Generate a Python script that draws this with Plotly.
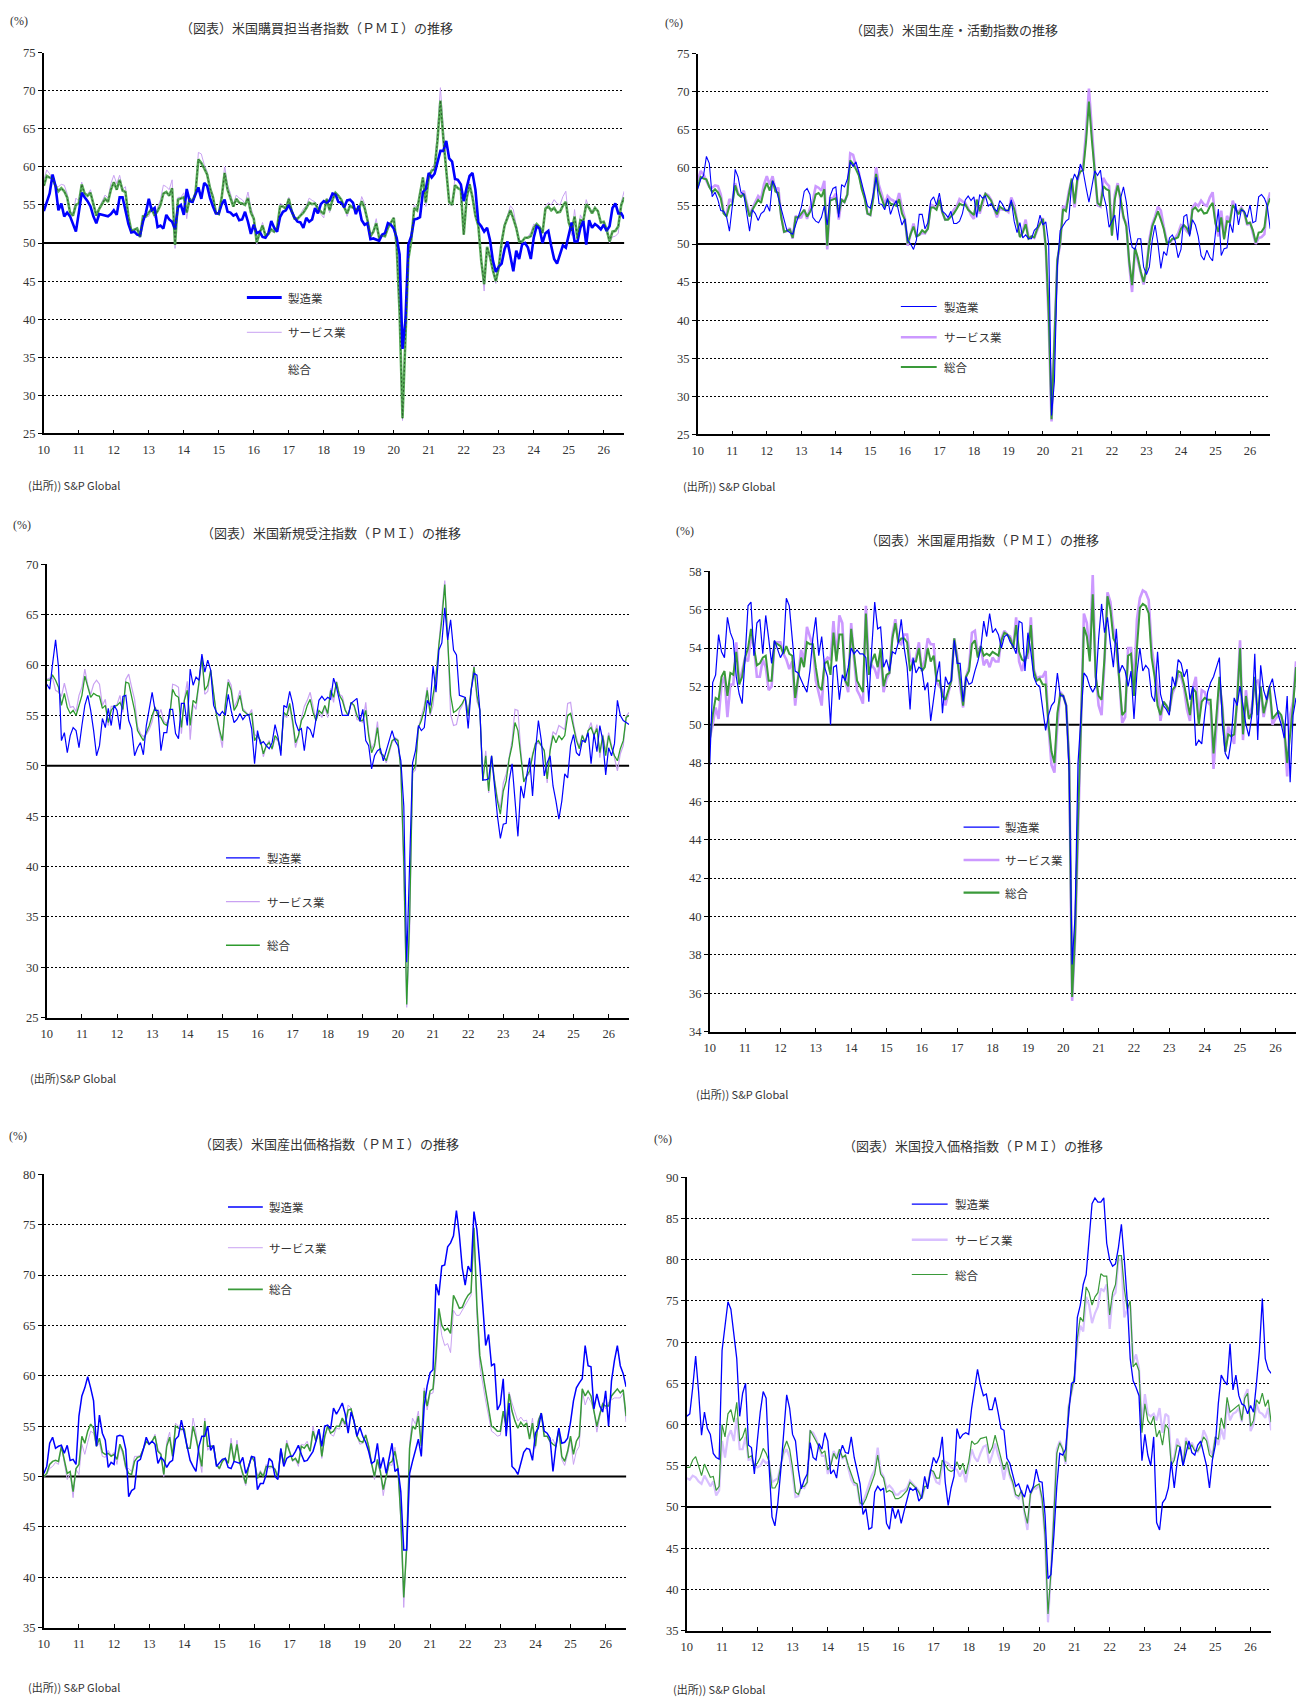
import plotly.graph_objects as go

W, H = 1301, 1705
BASELINE = 50
YEARS = list(range(2010, 2027))
YEAR_LABELS = [f"{y % 100:02d}" for y in YEARS]
LEGEND_NAMES = ["製造業", "サービス業", "総合"]
N_MONTHS = 200  # Jan 2010 - Aug 2026

# ---- headline PMI (monthly from Jan 2010) ----
PMI_MFG = [
    54.2, 55.5, 56.5, 59.0, 57.5, 54.3, 55.2, 53.5, 54.0, 53.5, 52.5, 51.5,
    54.0, 56.6, 56.0, 55.5, 54.8, 53.5, 52.6, 53.8, 53.7, 53.6, 53.5, 53.8,
    54.3, 53.7, 56.0, 56.0, 54.0, 52.5, 51.4, 51.5, 51.1, 51.0, 52.8, 54.0,
    55.8, 54.3, 54.6, 52.1, 52.3, 51.9, 53.7, 53.1, 52.8, 51.8, 54.7, 55.0,
    53.7, 57.1, 55.5, 55.4, 56.4, 57.3, 55.8, 57.9, 57.5, 55.9, 54.8, 53.9,
    53.9, 55.1, 55.7, 54.1, 54.0, 53.6, 53.8, 53.0, 53.1, 54.1, 52.8, 51.2,
    52.4, 51.3, 51.5, 50.8, 50.7, 51.3, 52.9, 52.0, 51.5, 53.4, 54.1, 54.3,
    55.0, 54.2, 53.3, 52.8, 52.7, 52.0, 53.3, 52.8, 53.1, 54.6, 53.9, 55.1,
    55.5, 55.3, 55.6, 56.5, 56.4, 55.4, 55.3, 54.7, 55.6, 55.7, 55.3, 53.8,
    54.9, 53.0, 52.4, 52.6, 50.5, 50.6, 50.4, 50.3, 51.1, 51.3, 52.6, 52.4,
    51.9, 50.7, 48.5, 36.1, 39.8, 49.8, 50.9, 53.1, 53.2, 53.4, 56.7, 57.1,
    59.2, 58.6, 59.1, 60.5, 62.1, 62.1, 63.4, 61.1, 60.7, 58.4, 58.3, 57.7,
    55.5, 57.3, 58.8, 59.2, 57.0, 52.7, 52.2, 51.5, 52.0, 50.4, 47.7, 46.2,
    46.9, 47.3, 49.2, 50.2, 48.4, 46.3, 49.0, 47.9, 49.8, 50.0, 49.4, 47.9,
    50.7, 52.2, 51.9, 50.0, 51.3, 51.6, 49.6, 47.9, 47.3, 48.5, 49.7, 49.4,
    51.2, 52.7, 50.2, 50.2, 52.0, 52.9, 49.8, 53.0, 52.0, 52.5, 52.2, 51.8,
    52.4, 51.6, 52.2, 54.6, 55.2, 53.9, 53.9, 53.2,
]
PMI_SVC = [
    58.3, 59.6, 59.1, 58.4, 57.5, 57.4, 57.7, 57.6, 56.5, 54.1, 53.9, 55.9,
    55.5, 58.0, 56.6, 56.4, 57.0, 55.4, 53.9, 54.7, 55.6, 56.3, 55.9, 57.8,
    58.9, 57.8, 58.9, 57.1, 57.4, 53.7, 51.6, 51.7, 52.1, 50.7, 53.7, 53.4,
    53.5, 54.5, 53.3, 54.7, 55.7, 57.6, 57.4, 57.0, 58.3, 49.3, 56.0, 56.0,
    56.6, 53.2, 55.9, 55.5, 56.5, 61.9, 61.7, 60.3, 59.4, 57.5, 56.3, 54.0,
    53.8, 56.2, 60.1, 57.7, 56.5, 55.1, 56.3, 55.9, 55.7, 55.2, 56.7, 54.7,
    53.4, 49.8, 51.3, 52.7, 51.1, 51.2, 51.5, 51.4, 52.1, 55.2, 55.0, 54.6,
    56.0, 54.2, 53.2, 53.3, 53.8, 54.5, 54.9, 55.9, 55.6, 55.4, 54.7, 53.8,
    53.3, 55.9, 54.0, 55.5, 56.6, 56.4, 55.8, 54.7, 53.5, 54.7, 54.5, 54.5,
    54.2, 56.1, 55.2, 53.1, 51.0, 51.7, 53.2, 50.8, 51.0, 50.8, 51.9, 52.8,
    53.4, 49.4, 39.8, 26.7, 37.5, 47.9, 50.0, 55.0, 54.6, 56.9, 58.4, 54.8,
    58.3, 59.8, 60.4, 64.7, 70.4, 64.6, 59.9, 55.1, 54.9, 58.7, 58.0, 57.6,
    51.2, 56.5, 58.0, 55.6, 53.4, 52.7, 47.3, 43.7, 49.3, 47.8, 46.2, 44.7,
    46.8, 50.6, 52.6, 53.6, 54.9, 54.4, 52.3, 50.5, 50.1, 50.6, 50.8, 51.4,
    52.5, 52.3, 51.7, 51.3, 54.8, 55.3, 55.0, 55.7, 55.2, 55.0, 56.1, 56.8,
    52.9, 51.0, 54.4, 50.8, 53.7, 52.9, 55.7, 54.5, 54.2, 54.8, 54.1, 52.5,
    52.9, 51.6, 50.0, 50.8, 50.9, 51.3, 55.3, 56.8,
]
PMI_COMP = [
    57.5, 58.8, 58.6, 58.5, 57.5, 56.8, 57.2, 56.8, 56.0, 54.0, 53.6, 55.0,
    55.2, 57.7, 56.5, 56.2, 56.6, 55.0, 53.6, 54.5, 55.2, 55.8, 55.4, 57.0,
    58.0, 57.0, 58.3, 56.9, 56.7, 53.5, 51.6, 51.7, 51.9, 50.8, 53.5, 53.5,
    54.0, 54.5, 53.6, 54.2, 55.0, 56.5, 56.7, 56.2, 57.2, 49.8, 55.7, 55.8,
    56.0, 54.0, 55.8, 55.5, 56.5, 61.0, 60.5, 59.8, 59.0, 57.2, 56.0, 54.0,
    53.8, 56.0, 59.2, 57.0, 56.0, 54.8, 55.8, 55.3, 55.2, 55.0, 55.9, 54.0,
    53.2, 50.1, 51.3, 52.3, 51.0, 51.2, 51.8, 51.5, 52.0, 54.8, 54.8, 54.5,
    55.8, 54.2, 53.2, 53.2, 53.6, 54.0, 54.6, 55.3, 55.1, 55.2, 54.5, 54.1,
    53.8, 55.8, 54.3, 55.7, 56.6, 56.2, 55.7, 54.7, 53.9, 54.9, 54.7, 54.4,
    54.4, 55.5, 54.6, 53.0, 50.9, 51.5, 52.6, 50.7, 51.0, 50.9, 52.0, 52.7,
    53.3, 49.6, 40.9, 27.0, 37.0, 47.9, 50.3, 54.6, 54.3, 56.3, 58.6, 55.3,
    58.7, 59.5, 59.7, 63.5, 68.7, 63.7, 59.9, 55.4, 55.0, 57.6, 57.2, 57.0,
    51.1, 55.9, 57.7, 56.0, 53.6, 52.3, 47.7, 44.6, 49.5, 48.2, 46.4, 45.0,
    46.8, 50.1, 52.3, 53.4, 54.3, 53.2, 52.0, 50.2, 50.2, 50.7, 50.7, 50.9,
    52.0, 52.5, 52.1, 51.3, 54.5, 54.8, 54.3, 54.6, 54.0, 54.1, 54.9, 55.4,
    52.7, 51.6, 53.5, 50.6, 53.0, 52.9, 55.1, 54.6, 53.9, 54.6, 54.2, 52.7,
    52.8, 51.8, 50.2, 51.5, 51.6, 52.2, 55.0, 56.0,
]

# ---- output / business activity ----
OUT_MFG = [
    57.2, 58.5, 59.0, 61.5, 60.6, 56.2, 56.8, 55.8, 54.4, 54.3, 53.6, 51.7,
    55.0, 59.8, 58.8, 56.8, 56.5, 54.0, 51.7, 54.5, 54.0, 53.1, 54.0, 54.3,
    55.2, 54.3, 58.3, 57.5, 56.0, 54.6, 53.0, 51.8, 51.5, 51.3, 52.5, 53.8,
    54.8, 56.9, 57.3, 56.5, 53.5, 53.0, 52.8, 53.5, 55.0, 52.5, 56.3, 57.3,
    57.5, 53.5, 57.8, 57.5, 58.5, 60.8, 60.2, 60.8, 59.5, 58.0, 56.5, 55.0,
    54.7, 56.5, 58.8, 55.3, 55.2, 54.5, 56.0, 53.9, 55.0, 55.7, 54.0, 52.5,
    53.3, 50.5, 50.0, 49.3, 50.5, 53.9, 53.9, 52.0, 52.8, 55.7, 56.2, 55.1,
    56.7, 54.3, 54.0, 53.5, 54.3, 52.7, 52.7, 53.0, 54.0, 55.8, 56.3, 55.7,
    56.2, 53.5, 56.5, 56.0, 56.3, 55.0, 55.3, 54.6, 54.3, 55.7, 55.2, 54.4,
    54.4, 55.8, 53.0, 51.5, 52.8, 50.8, 51.2, 50.7, 50.7, 51.8, 52.2, 53.8,
    52.5, 52.9, 50.0, 27.5, 32.0, 47.0, 51.8, 52.5, 53.0, 53.3, 58.0, 59.2,
    58.4, 60.5, 59.5, 57.4, 55.5, 57.5, 59.6, 59.0, 59.7, 56.5, 55.0, 52.2,
    53.1, 53.8, 50.5, 56.0, 57.5, 55.5, 52.0, 49.6, 49.3, 50.7, 50.7, 47.0,
    46.0, 47.0, 50.5, 52.5, 50.0, 46.8, 49.0, 48.5, 50.8, 51.2, 50.4, 48.2,
    49.3, 53.6, 53.9, 51.0, 53.2, 52.5, 51.0, 48.5, 47.9, 49.2, 48.3, 47.8,
    51.5, 54.6, 48.5, 49.4, 49.5, 52.8, 51.5, 55.3, 52.5, 54.5, 54.3, 53.5,
    55.1, 52.8, 53.0, 56.2, 56.5, 56.0, 55.0, 52.0,
]
OUT_SVC = PMI_SVC
OUT_COMP = PMI_COMP

# ---- new orders ----
NO_MFG = [
    58.1, 57.6, 60.2, 62.5, 59.8, 52.5, 53.3, 51.3, 53.0, 53.8, 53.5, 51.8,
    54.0, 56.0, 57.0, 55.5, 53.5, 51.0, 52.0, 54.7, 53.8, 55.7, 54.0, 56.0,
    55.5, 53.6, 56.9, 57.0, 54.5, 53.7, 51.0, 51.8, 52.3, 51.1, 54.0, 55.5,
    57.3, 55.5, 55.5, 51.5, 53.3, 53.3, 55.6, 55.6, 53.2, 52.7, 56.2, 56.2,
    54.0, 59.6, 58.0, 58.8, 58.5, 61.1, 59.3, 60.5, 59.5, 56.0, 55.3, 55.0,
    55.4, 55.0, 57.1, 55.5, 54.3, 54.6, 55.2, 54.6, 55.0, 55.1, 53.7, 50.2,
    53.5, 52.2, 52.4, 52.0, 51.7, 52.3, 54.1, 52.9, 51.0, 56.0, 55.8, 57.4,
    56.2, 54.3, 53.5, 53.7, 51.5, 53.9, 53.6, 52.8, 54.5, 56.5, 56.9, 56.5,
    56.8, 56.6, 58.7, 57.8, 56.5, 55.0, 55.0, 55.0, 56.2, 56.5, 56.7, 54.4,
    55.6, 52.5, 52.0, 49.7, 51.0, 51.5, 51.7, 50.5, 51.5, 52.5, 53.5, 52.5,
    52.0, 50.5, 46.0, 30.5, 40.0, 50.3, 51.5, 54.0, 53.5, 53.8, 56.5, 56.0,
    59.9, 57.3, 61.5, 62.2, 65.7, 62.5, 64.5, 61.5, 61.0, 57.0, 56.9, 56.8,
    53.7, 57.5, 59.2, 59.0, 55.5, 48.6, 48.6, 48.7, 51.0, 48.0, 45.0, 42.8,
    44.2, 44.3, 48.5, 50.2, 46.5, 43.0, 48.0, 46.8, 49.0, 50.8, 47.0, 51.5,
    54.5, 52.5, 49.0, 50.3, 51.0, 48.0, 46.5, 44.7, 46.5, 49.2, 48.8, 52.0,
    53.1, 51.3, 51.0, 52.5, 52.4, 53.3, 50.2, 53.2, 51.4, 54.0, 52.5, 49.1,
    51.8, 51.0, 52.2, 56.5, 55.0, 54.5, 54.3, 54.1,
]
NO_SVC = [
    58.6, 58.7, 58.7, 57.5, 57.3, 56.9, 58.2, 56.9, 55.8, 55.9, 55.4, 57.0,
    57.8, 59.6, 58.0, 57.1, 58.1, 58.5, 58.1, 56.0, 56.6, 54.0, 55.9, 55.9,
    56.1, 57.0, 55.3, 58.6, 59.1, 57.8, 56.6, 53.9, 53.2, 52.9, 53.1, 53.6,
    54.4, 55.9, 54.9, 55.6, 54.4, 54.2, 54.9, 58.1, 58.0, 57.8, 53.2, 56.6,
    58.4, 52.6, 56.1, 55.6, 58.3, 60.7, 57.1, 57.4, 59.5, 57.3, 54.9, 53.3,
    51.8, 56.3, 58.6, 58.0, 55.8, 56.4, 57.5, 55.7, 55.3, 55.0, 55.6, 53.1,
    52.9, 52.6, 50.9, 52.0, 52.5, 51.6, 52.7, 52.5, 51.6, 55.1, 54.8, 55.9,
    54.1, 51.8, 52.9, 54.7, 55.9, 56.5, 57.3, 55.9, 54.5, 55.3, 54.8, 55.9,
    54.8, 57.7, 56.3, 58.4, 57.1, 56.9, 55.6, 55.0, 56.3, 55.9, 54.6, 54.5,
    54.3, 56.3, 53.3, 51.7, 52.3, 54.4, 51.2, 51.1, 50.3, 51.3, 52.3, 52.8,
    52.6, 49.4, 39.1, 26.0, 33.8, 49.3, 49.6, 53.8, 54.8, 56.0, 57.8, 55.0,
    56.0, 59.2, 62.1, 64.9, 68.4, 62.5, 55.1, 54.0, 54.1, 55.5, 56.0, 56.8,
    55.3, 57.5, 60.0, 56.4, 55.6, 48.5, 51.5, 47.3, 51.0, 48.7, 46.8, 45.8,
    48.3, 49.2, 51.0, 52.5, 55.6, 55.5, 51.5, 48.6, 49.0, 49.2, 51.2, 52.1,
    52.3, 51.9, 51.6, 48.3, 51.8, 53.4, 53.1, 54.0, 53.8, 53.6, 56.2, 56.3,
    54.2, 52.8, 51.8, 53.1, 52.3, 53.5, 54.3, 53.0, 54.1, 50.8, 53.1, 51.5,
    53.3, 51.9, 50.8, 49.5, 51.2, 52.0, 54.9, 55.3,
]
NO_COMP = [
    58.5, 58.5, 59.0, 58.5, 57.8, 56.0, 57.2, 55.8, 55.2, 55.5, 55.0, 56.0,
    57.0, 58.9, 57.8, 56.8, 57.2, 57.0, 56.9, 55.7, 56.0, 54.3, 55.5, 55.9,
    56.0, 56.3, 55.6, 58.3, 58.2, 57.0, 55.5, 53.5, 53.0, 52.5, 53.3, 54.0,
    55.0, 55.8, 55.0, 54.8, 54.2, 54.0, 55.0, 57.6, 57.0, 56.8, 53.8, 56.5,
    57.5, 54.0, 56.5, 56.2, 58.3, 60.8, 57.5, 58.0, 59.5, 57.0, 55.0, 53.6,
    52.5, 56.0, 58.3, 57.5, 55.5, 56.0, 57.0, 55.5, 55.2, 55.0, 55.2, 52.5,
    53.0, 52.5, 51.2, 52.0, 52.3, 51.7, 53.0, 52.6, 51.5, 55.3, 55.0, 56.2,
    54.5, 52.3, 53.0, 54.5, 55.0, 56.0, 56.6, 55.3, 54.5, 55.5, 55.2, 56.0,
    55.2, 57.5, 56.8, 58.3, 57.0, 56.5, 55.5, 55.0, 56.3, 56.0, 55.0, 54.5,
    54.5, 55.5, 53.0, 51.3, 52.0, 53.8, 51.3, 51.0, 50.5, 51.5, 52.5, 52.7,
    52.5, 49.6, 40.5, 26.3, 35.0, 49.5, 50.0, 53.8, 54.5, 55.5, 57.5, 55.2,
    56.8, 58.8, 62.0, 64.5, 68.0, 62.5, 57.0, 55.3, 55.5, 55.8, 56.2, 56.8,
    55.0, 57.5, 59.8, 57.0, 55.5, 48.5, 51.0, 47.5, 51.0, 48.5, 46.5, 45.2,
    47.5, 48.5, 50.7, 52.0, 54.3, 53.5, 51.0, 48.4, 49.0, 49.5, 51.0, 52.2,
    52.5, 52.0, 51.5, 48.7, 51.5, 53.0, 52.3, 53.0, 52.6, 53.0, 55.0, 55.2,
    54.0, 52.5, 51.7, 53.0, 52.3, 53.5, 53.8, 53.0, 53.7, 51.3, 53.0, 51.0,
    53.0, 51.8, 51.0, 50.5, 51.7, 52.5, 54.8, 55.0,
]

# ---- employment ----
EMP_MFG = [
    47.9, 52.2, 52.6, 54.7, 53.8, 53.5, 55.6, 54.8, 54.4, 52.5, 51.6, 51.1,
    53.5, 56.2, 56.4, 53.6, 55.3, 55.5, 53.7, 55.7, 54.5, 53.2, 54.4, 54.0,
    53.5, 53.8, 56.6, 56.2, 54.5, 52.8, 52.7, 52.3, 52.0, 51.7, 52.8, 54.5,
    55.6, 53.6, 54.6, 53.0, 52.5, 50.0, 53.0, 53.1, 51.3, 52.6, 52.3, 53.0,
    54.0, 53.7, 53.9, 53.7, 53.7, 53.5, 51.2, 54.0, 56.4, 55.0, 55.1, 53.0,
    53.4, 52.8, 53.8, 53.7, 54.3, 55.5, 54.0, 53.0, 50.8, 53.5, 52.7, 53.0,
    52.9, 51.8, 52.2, 50.2, 51.5, 52.5, 53.3, 50.6, 52.5, 52.1, 52.3, 54.4,
    53.2, 53.2, 51.2, 52.5, 52.1, 52.2, 52.8, 53.3, 54.0, 55.4, 54.6, 55.8,
    54.8, 55.0, 54.7, 54.0, 54.6, 54.7, 54.3, 54.1, 53.7, 55.4, 55.3, 52.8,
    54.8, 53.8, 52.5, 52.1, 52.0, 50.8, 49.7, 50.5, 51.0, 51.2, 52.7, 51.5,
    51.5, 51.0, 47.5, 37.5, 40.0, 48.0, 50.3, 52.7, 52.5, 52.0, 51.7, 52.0,
    54.5, 56.3, 54.8, 55.6, 54.2, 53.0, 55.0, 52.7, 53.1, 52.8, 52.0, 52.8,
    50.3, 52.7, 54.0, 52.8, 53.1, 52.9, 51.5, 51.2, 53.8, 51.6, 51.0, 50.8,
    50.5, 52.5, 52.0, 53.4, 53.2, 52.5, 52.9, 51.3, 52.0, 48.9, 49.2, 49.0,
    50.5, 51.7, 52.2, 52.5, 53.0, 53.5, 50.0, 48.5, 48.2, 49.2, 51.4, 51.0,
    52.0, 51.0, 50.0, 49.4, 50.5, 53.7, 49.2, 53.1, 51.8, 51.3, 52.0, 52.4,
    51.5, 50.5, 50.0, 49.3, 51.5, 47.0, 50.5, 51.4,
]
EMP_SVC = [
    49.3, 50.0, 50.9, 50.3, 52.1, 52.5, 50.4, 52.1, 52.1, 54.3, 52.1, 52.9,
    53.5, 53.3, 54.6, 54.1, 52.5, 52.5, 53.4, 53.0, 51.8, 52.0, 54.3, 54.3,
    54.3, 53.7, 53.4, 52.9, 53.3, 51.0, 52.3, 53.9, 53.3, 55.1, 54.6, 54.1,
    52.3, 51.6, 51.0, 53.3, 53.5, 53.4, 55.4, 53.4, 55.7, 55.3, 52.3, 51.7,
    55.3, 53.4, 51.8, 51.5, 51.1, 56.2, 53.0, 53.1, 52.9, 52.4, 53.7, 51.7,
    52.4, 52.7, 54.7, 55.5, 54.3, 54.2, 54.7, 54.7, 53.4, 53.2, 53.5, 54.3,
    52.8, 53.4, 54.5, 54.2, 54.2, 52.2, 52.0, 51.8, 51.0, 51.7, 52.3, 54.5,
    53.6, 52.0, 50.9, 52.5, 53.0, 54.8, 54.9, 53.6, 54.1, 53.1, 53.4, 53.0,
    53.5, 53.3, 53.3, 54.5, 54.9, 54.7, 54.6, 54.0, 55.6, 53.3, 52.8, 53.5,
    53.5, 55.6, 52.9, 52.4, 52.5, 52.5, 52.8, 49.9, 47.9, 47.5, 50.0, 51.7,
    51.5, 51.0, 48.1, 35.6, 38.8, 44.2, 50.6, 55.8, 55.3, 53.6, 57.8, 52.6,
    51.0, 50.5, 53.3, 56.9, 56.4, 55.0, 54.0, 52.4, 50.1, 50.4, 54.0, 54.0,
    52.0, 55.5, 56.6, 57.0, 56.9, 56.5, 54.0, 52.9, 52.0, 50.2, 51.2, 51.0,
    50.7, 51.6, 52.0, 52.6, 52.5, 51.9, 50.8, 50.2, 51.9, 52.5, 50.3, 51.8,
    51.7, 51.2, 51.0, 47.7, 49.8, 52.2, 51.0, 48.6, 49.9, 49.5, 49.0, 51.3,
    54.4, 49.2, 51.8, 50.4, 50.9, 52.2, 52.3, 51.7, 50.4, 51.2, 52.0, 50.0,
    50.3, 50.5, 50.4, 49.8, 47.3, 50.5, 51.2, 53.3,
]
EMP_COMP = [
    49.2, 50.5, 51.4, 51.3, 52.5, 52.8, 51.5, 52.7, 52.6, 53.8, 52.1, 52.5,
    53.5, 54.0, 55.0, 54.0, 53.1, 53.2, 53.5, 53.6, 52.3, 52.3, 54.3, 54.2,
    54.1, 53.7, 54.1, 53.7, 53.6, 51.4, 52.4, 53.5, 53.0, 54.3, 54.2, 54.2,
    53.0, 52.0, 51.8, 53.2, 53.3, 52.6, 54.8, 53.3, 54.7, 54.7, 52.3, 52.0,
    55.0, 53.5, 52.3, 52.0, 51.7, 55.8, 52.6, 53.3, 53.7, 53.0, 54.0, 52.0,
    52.6, 52.7, 54.5, 55.3, 54.3, 54.5, 54.5, 54.3, 52.8, 53.3, 53.3, 54.0,
    52.8, 53.0, 54.0, 53.3, 53.6, 52.3, 52.3, 51.5, 51.3, 51.8, 52.3, 54.5,
    53.5, 52.3, 51.0, 52.5, 52.8, 54.2, 54.4, 53.5, 54.1, 53.6, 53.7, 53.6,
    53.8, 53.7, 53.6, 54.4, 54.8, 54.7, 54.5, 54.0, 55.2, 53.8, 53.4, 53.3,
    53.8, 55.2, 52.8, 52.3, 52.4, 52.1, 52.1, 50.0, 48.6, 48.0, 50.6, 51.6,
    51.5, 51.0, 48.0, 35.8, 39.0, 45.0, 50.5, 55.1, 54.6, 53.3, 56.8, 52.5,
    51.5, 51.3, 53.5, 56.7, 56.0, 54.5, 54.2, 52.5, 50.5, 50.7, 53.6, 53.7,
    51.5, 54.0, 56.1, 56.3, 56.2, 55.8, 53.5, 52.5, 51.0, 50.5, 51.2, 51.0,
    50.7, 51.8, 52.0, 52.8, 52.7, 52.1, 51.3, 50.5, 51.9, 51.7, 50.0, 51.2,
    51.4, 51.3, 51.3, 48.5, 50.5, 52.5, 50.8, 48.6, 49.5, 49.4, 49.5, 51.2,
    54.0, 49.5, 51.5, 50.3, 50.6, 52.5, 50.5, 52.0, 50.6, 51.2, 52.0, 50.3,
    50.5, 50.7, 50.5, 49.8, 48.0, 49.5, 51.0, 53.0,
]

# ---- output prices ----
OPP_MFG = [
    50.3, 51.0, 53.3, 53.9, 52.8, 53.0, 53.1, 52.3, 53.1, 51.6, 51.7, 51.2,
    56.0, 58.0, 58.8, 59.9, 58.8, 57.5, 53.0, 56.1, 54.3, 53.6, 50.9, 51.4,
    51.2, 54.0, 54.1, 54.0, 52.7, 48.0, 48.6, 48.8, 51.5, 51.7, 52.7, 53.9,
    53.2, 53.5, 53.2, 51.3, 51.9, 51.6, 50.9, 51.4, 51.6, 53.7, 54.0, 55.6,
    54.3, 52.8, 51.6, 51.0, 50.5, 53.0, 54.0, 54.0, 55.0, 52.6, 53.1, 51.0,
    51.3, 51.7, 51.8, 50.9, 50.8, 51.5, 51.4, 51.3, 51.9, 50.3, 51.0, 52.0,
    51.9, 48.7, 49.3, 49.3, 50.2, 51.8, 51.5, 50.0, 49.7, 52.8, 51.0, 51.8,
    52.0, 52.0, 52.5, 53.1, 52.2, 51.5, 51.6, 52.0, 52.5, 53.5, 54.7, 53.0,
    55.0, 55.1, 54.7, 56.8, 56.2, 56.7, 57.3, 56.2, 54.3, 56.4, 55.5, 54.0,
    54.9, 54.0, 53.4, 52.5, 51.3, 51.5, 53.3, 50.8, 51.9, 50.3, 52.0, 53.3,
    50.5, 50.8, 48.5, 42.7, 42.7, 50.3, 51.5, 52.5, 53.7, 52.0, 57.0, 59.0,
    60.3, 60.6, 69.1, 68.0, 70.9, 71.0, 72.8, 73.2, 73.9, 76.4, 74.0, 70.7,
    69.0, 70.9, 70.3, 76.3, 74.5, 71.0, 67.0, 63.0, 64.1, 61.0, 61.2, 56.6,
    57.2, 59.7, 54.0, 57.3, 51.0, 50.7, 50.2, 51.3, 52.4, 52.8, 52.7, 51.6,
    54.3, 54.8, 56.3, 54.5, 54.3, 53.8, 50.5, 53.0, 54.8, 53.3, 53.4, 53.8,
    55.4, 57.5, 58.8, 59.3, 59.7, 63.0, 61.0, 60.9, 56.7, 58.2, 57.0, 56.4,
    58.5, 55.0, 59.5, 61.5, 63.0, 61.0, 60.2, 58.9,
]
OPP_SVC = [
    49.9, 50.2, 50.8, 51.0, 51.4, 51.2, 53.0, 51.3, 49.7, 50.3, 47.9, 50.7,
    50.2, 53.2, 52.2, 53.4, 54.5, 54.3, 53.0, 53.3, 52.0, 51.9, 52.6, 52.1,
    52.4, 51.2, 53.0, 52.2, 50.7, 50.8, 50.5, 52.0, 52.0, 52.1, 52.7, 53.4,
    53.2, 53.5, 54.2, 52.7, 52.3, 50.0, 53.4, 54.4, 52.1, 55.3, 55.0, 54.5,
    54.8, 52.8, 53.0, 55.8, 54.4, 52.0, 50.4, 55.8, 52.6, 53.1, 53.0, 51.2,
    50.7, 51.5, 51.8, 51.4, 53.8, 51.5, 53.6, 51.3, 50.0, 49.1, 51.0, 52.0,
    51.4, 50.0, 50.6, 50.1, 51.2, 50.8, 50.9, 50.8, 50.0, 52.7, 51.2, 53.6,
    52.6, 51.5, 51.7, 51.0, 53.2, 53.1, 53.5, 52.6, 55.0, 53.5, 54.7, 51.8,
    53.8, 55.0, 54.2, 54.0, 54.8, 54.7, 55.5, 55.0, 57.1, 56.8, 55.5, 54.0,
    53.2, 53.3, 54.2, 53.1, 51.3, 49.7, 51.4, 50.4, 48.1, 49.9, 51.2, 51.1,
    52.9, 50.9, 45.6, 37.0, 43.0, 53.3, 55.8, 55.2, 56.5, 53.2, 58.8, 56.6,
    58.2, 58.3, 60.8, 66.2, 64.0, 63.0, 63.2, 62.3, 66.5, 66.0, 66.0, 66.5,
    67.0, 67.5, 68.0, 74.5, 66.0, 61.0, 59.0, 57.5, 56.0, 54.5, 54.3, 54.0,
    54.1, 56.0, 55.2, 58.4, 57.3, 56.3, 55.5, 55.9, 55.5, 55.6, 53.9, 55.8,
    52.8, 55.7, 56.3, 54.0, 54.0, 53.4, 53.7, 53.0, 54.7, 51.7, 51.1, 52.2,
    53.7, 51.2, 52.5, 53.0, 58.5, 57.1, 57.9, 57.4, 56.5, 54.4, 56.0, 57.4,
    56.7, 57.4, 57.6, 57.8, 57.8, 57.8, 58.3, 55.4,
]
OPP_COMP = [
    50.0, 50.3, 51.2, 51.5, 51.6, 51.5, 53.0, 51.5, 50.3, 50.5, 48.5, 50.8,
    51.2, 54.0, 53.3, 54.5, 55.2, 54.8, 53.0, 53.8, 52.4, 52.2, 52.3, 52.0,
    52.2, 51.7, 53.2, 52.5, 51.0, 50.3, 50.2, 51.5, 51.9, 52.0, 52.7, 53.5,
    53.2, 53.5, 54.0, 52.5, 52.2, 50.2, 53.0, 53.9, 52.0, 55.0, 54.8, 54.7,
    54.7, 52.8, 52.8, 55.0, 53.8, 52.2, 51.0, 55.5, 53.0, 53.0, 53.0, 51.2,
    50.8, 51.5, 51.8, 51.3, 53.3, 51.5, 53.2, 51.3, 50.3, 49.3, 51.0, 52.0,
    51.5, 49.8, 50.4, 50.0, 51.0, 51.0, 51.0, 50.7, 49.9, 52.7, 51.2, 53.3,
    52.5, 51.6, 51.8, 51.3, 53.0, 52.8, 53.2, 52.5, 54.5, 53.5, 54.7, 52.0,
    54.0, 55.0, 54.3, 54.5, 55.0, 55.0, 55.8, 55.2, 56.6, 56.7, 55.5, 54.0,
    53.5, 53.4, 54.1, 53.0, 51.3, 50.0, 51.7, 50.5, 48.7, 50.0, 51.3, 51.5,
    52.5, 50.9, 46.0, 38.0, 43.0, 52.8, 55.0, 54.7, 56.0, 53.0, 58.5, 57.0,
    58.5, 58.7, 62.0, 66.7, 65.0, 64.5, 64.7, 64.2, 68.0, 67.4, 66.7, 66.8,
    67.5, 68.0, 68.3, 74.7, 67.0, 62.0, 60.0, 58.5, 56.8, 55.0, 54.8, 54.5,
    54.5, 56.5, 55.0, 58.2, 56.5, 55.5, 54.8, 55.4, 55.0, 55.3, 53.7, 55.3,
    53.0, 55.5, 56.3, 54.0, 54.0, 53.5, 53.2, 53.0, 54.7, 52.0, 51.5, 52.5,
    54.0, 52.2, 53.5, 54.0, 58.7, 58.0, 58.5, 58.0, 56.5, 55.0, 56.2, 57.2,
    57.0, 57.0, 58.0, 58.3, 58.7, 58.3, 58.6, 56.0,
]

# ---- input prices ----
IPP_MFG = [
    61.0, 61.3, 64.5, 68.3, 64.0, 58.7, 61.5, 59.5, 58.8, 56.5, 56.0, 55.8,
    69.0, 72.0, 74.9, 74.0, 71.0, 68.0, 61.0, 63.8, 65.0, 57.5, 57.2, 54.0,
    58.0, 61.5, 64.0, 63.2, 55.0, 48.8, 47.7, 50.5, 54.5, 58.7, 63.6, 62.0,
    58.8, 58.0, 54.5, 52.2, 53.3, 54.0, 57.8, 56.0, 55.7, 57.7, 57.0, 59.0,
    58.0, 54.0, 54.5, 53.5, 56.3, 57.5, 56.6, 56.5, 58.5, 56.0, 54.3, 52.8,
    49.1, 49.8, 47.3, 47.5, 51.8, 52.5, 52.0, 52.3, 48.0, 47.3, 50.0, 48.6,
    49.7, 48.0, 49.5, 51.0, 52.3, 52.0, 52.3, 50.7, 51.2, 53.7, 52.2, 54.3,
    56.0, 55.3, 56.2, 58.5, 53.0, 50.2, 52.3, 53.7, 59.5, 58.3, 58.8, 59.0,
    58.8, 62.0, 64.5, 66.7, 64.8, 63.5, 63.7, 61.8, 61.8, 63.3, 61.5, 59.5,
    59.3, 55.9, 55.3, 53.8, 52.5, 52.8, 51.8, 51.2, 52.7, 51.7, 52.5, 54.6,
    53.1, 53.0, 49.0, 41.3, 41.8, 46.5, 52.5, 56.5, 56.3, 57.0, 61.0, 65.0,
    65.2, 73.0, 74.5, 77.0, 78.2, 83.0, 86.8, 87.5, 87.0, 87.0, 87.5, 82.0,
    80.0, 79.2, 79.5, 81.5, 84.3, 80.0, 75.0, 68.0, 65.3, 64.5, 63.5, 55.6,
    58.8, 56.3, 55.0, 58.5, 48.1, 47.2, 50.5, 51.0, 52.3, 55.5, 52.3, 55.5,
    57.3, 55.0, 56.5, 58.0, 56.6, 56.3, 57.5, 58.0, 56.5, 55.0, 52.3, 55.7,
    57.5, 62.5, 66.0, 65.3, 64.8, 69.8, 64.2, 66.0, 63.5, 62.5, 62.3, 61.3,
    62.3, 61.5, 65.0, 69.0, 75.3, 68.0, 66.7, 66.2,
]
IPP_SVC = [
    53.5, 53.3, 53.8, 53.6, 53.1, 52.8, 53.8, 53.2, 52.5, 53.1, 51.4, 52.0,
    58.0, 56.0, 58.5, 59.3, 58.0, 60.8, 57.0, 57.0, 58.5, 55.7, 55.8, 55.0,
    54.8, 55.0, 55.7, 55.3, 55.5, 53.0, 53.2, 53.5, 55.1, 56.5, 57.0, 56.0,
    54.0, 51.2, 51.3, 52.6, 52.3, 53.0, 59.2, 59.0, 58.3, 57.1, 56.2, 56.2,
    54.0, 55.2, 56.8, 56.0, 57.0, 55.8, 56.3, 54.7, 53.3, 52.7, 52.6, 50.2,
    50.6, 51.6, 52.8, 53.8, 54.5, 57.2, 54.3, 53.7, 52.3, 52.6, 52.2, 51.5,
    51.5, 51.9, 52.0, 52.3, 53.2, 52.8, 52.3, 52.0, 51.0, 52.3, 52.6, 54.5,
    53.9, 53.0, 52.8, 55.0, 55.5, 55.3, 54.8, 54.6, 54.5, 53.7, 54.5, 53.0,
    54.8, 57.0, 56.0, 55.5, 56.5, 57.3, 57.5, 55.3, 56.3, 57.7, 56.3, 55.3,
    53.3, 55.4, 53.7, 52.8, 51.3, 51.0, 52.0, 49.2, 47.2, 51.5, 52.3, 52.2,
    52.7, 50.6, 46.0, 36.0, 42.0, 49.5, 57.0, 58.0, 57.1, 55.2, 62.2, 63.8,
    65.5, 69.8, 72.0, 71.3, 75.5, 74.5, 72.3, 73.5, 74.3, 76.5, 76.2, 77.0,
    71.6, 75.5, 76.0, 80.0, 80.0, 73.0, 74.0, 74.5, 67.5, 68.5, 66.8, 60.0,
    63.7, 61.3, 61.0, 61.3, 60.5, 62.0, 59.0, 61.3, 61.0, 55.5, 56.0, 58.3,
    57.3, 55.2, 58.4, 57.3, 57.8, 57.0, 56.7, 57.4, 59.3, 58.5, 57.0, 56.3,
    58.5, 57.5, 59.5, 58.2, 62.5, 60.5, 61.3, 61.5, 62.0, 60.3, 63.5, 64.3,
    59.2, 60.0, 62.5, 61.5, 61.3, 60.8, 62.0, 59.3,
]
IPP_COMP = [
    54.8, 54.8, 55.7, 56.1, 55.0, 53.8, 55.2, 54.3, 53.6, 53.7, 52.0, 52.5,
    60.0, 58.5, 61.3, 61.8, 60.3, 62.7, 58.0, 58.5, 59.6, 56.0, 56.2, 55.0,
    55.3, 56.0, 57.1, 56.5, 55.5, 52.3, 52.3, 53.0, 55.0, 57.0, 58.0, 57.0,
    54.8, 51.8, 51.5, 52.5, 52.5, 53.0, 59.3, 58.7, 58.0, 57.3, 56.5, 56.8,
    54.5, 55.0, 56.5, 55.8, 57.0, 56.0, 56.3, 55.0, 54.0, 53.0, 52.8, 50.5,
    50.3, 51.0, 52.0, 53.0, 54.0, 56.3, 54.0, 53.5, 51.8, 52.0, 51.8, 51.0,
    51.0, 51.2, 51.6, 52.0, 53.0, 52.7, 52.3, 51.8, 51.0, 52.5, 52.5, 54.5,
    54.3, 53.5, 53.5, 55.7, 55.0, 54.5, 54.3, 54.5, 55.5, 54.5, 55.3, 54.0,
    55.5, 58.0, 57.6, 57.8, 58.3, 58.4, 58.5, 56.5, 57.2, 58.7, 57.2, 56.0,
    54.5, 55.5, 54.0, 53.0, 51.5, 51.3, 52.0, 49.5, 48.0, 51.5, 52.3, 52.6,
    52.8, 51.0, 46.5, 37.0, 42.0, 49.0, 56.5, 57.8, 57.0, 55.5, 62.0, 64.0,
    66.0, 70.5, 73.0, 72.5, 76.7, 76.0, 74.5, 75.5, 76.0, 78.3, 78.0, 78.0,
    73.3, 76.0, 77.0, 80.5, 80.5, 76.5, 74.0, 75.0, 67.0, 67.5, 66.5, 59.0,
    62.5, 60.5, 60.0, 61.0, 58.5, 59.3, 57.5, 60.0, 59.5, 55.0, 55.7, 57.5,
    57.3, 55.0, 58.0, 57.0, 57.5, 56.8, 56.8, 57.5, 58.5, 58.0, 56.3, 56.0,
    58.5, 58.2, 60.8, 59.5, 63.3, 61.5, 61.8, 62.0, 62.4, 60.5, 63.2, 63.8,
    59.8, 60.5, 63.0, 62.5, 63.8, 62.2, 63.0, 60.3,
]

BLUE = "#0000FF"
PURPLE = "#CC99FF"
PURPLE_THIN = "#C9A2F2"
PURPLE_LIGHT = "#D9C0FF"
GREEN = "#3A9A3A"
TEXT = "#333333"
JP_FONT = "Noto Sans CJK JP"
NUM_FONT = "Liberation Serif"

# pixel geometry of each panel
PANELS = [
    dict(title="（図表）米国購買担当者指数（ＰＭＩ）の推移", title_xy=(312, 21),
         box=(38, 621, 46, 430), yr=(25, 75), dtick=5, pct_xy=(13, 14),
         src="(出所)) S&P Global", src_xy=(20, 482),
         leg=(242, 277, 281, (293, 328, 365)),
         series=[(PMI_SVC, PURPLE_THIN, 1.0, "solid"),
                 (PMI_COMP, "#5AAE5A", 2.6, "solid"),
                 (PMI_MFG, BLUE, 2.6, "solid")],
         overlay=(PMI_COMP, "#2C5C2C", 1.0, "2px,2px"),
         leg_lines=[(BLUE, 3.0), (PURPLE_THIN, 1.0), None]),
    dict(title="（図表）米国生産・活動指数の推移", title_xy=(952, 23),
         box=(695, 1270, 47, 431), yr=(25, 75), dtick=5, pct_xy=(671, 16),
         src="(出所)) S&P Global", src_xy=(678, 483),
         leg=(899, 935, 940, (302, 333, 363)),
         series=[(OUT_SVC, PURPLE, 2.6, "solid"),
                 (OUT_COMP, GREEN, 2.0, "solid"),
                 (OUT_MFG, BLUE, 1.1, "solid")],
         leg_lines=[(BLUE, 1.2), (PURPLE, 2.6), (GREEN, 2.2)]),
    dict(title="（図表）米国新規受注指数（ＰＭＩ）の推移", title_xy=(327, 530),
         box=(41, 626, 562, 1019), yr=(25, 70), dtick=5, pct_xy=(16, 522),
         src="(出所)S&P Global", src_xy=(22, 1080),
         leg=(221, 255, 260, (858, 902, 946)),
         series=[(NO_SVC, PURPLE_THIN, 1.2, "solid"),
                 (NO_COMP, "#2E9B2E", 1.3, "solid"),
                 (NO_MFG, BLUE, 1.2, "solid")],
         leg_lines=[(BLUE, 1.2), (PURPLE_THIN, 1.2), ("#2E9B2E", 1.3)]),
    dict(title="（図表）米国雇用指数（ＰＭＩ）の推移", title_xy=(981, 537),
         box=(707, 1296, 569, 1033), yr=(34, 58), dtick=2, pct_xy=(682, 528),
         src="(出所)) S&P Global", src_xy=(691, 1096),
         leg=(962, 998, 1002, (827, 860, 893)),
         series=[(EMP_SVC, PURPLE, 2.6, "solid"),
                 (EMP_COMP, GREEN, 2.0, "solid"),
                 (EMP_MFG, BLUE, 1.2, "solid")],
         leg_lines=[(BLUE, 1.2), (PURPLE, 2.6), (GREEN, 2.2)]),
    dict(title="（図表）米国産出価格指数（ＰＭＩ）の推移", title_xy=(324, 1146),
         box=(38, 623, 1177, 1634), yr=(35, 80), dtick=5, pct_xy=(12, 1138),
         src="(出所)) S&P Global", src_xy=(20, 1694),
         leg=(223, 258, 262, (1210, 1251, 1293)),
         series=[(OPP_SVC, PURPLE_THIN, 1.0, "solid"),
                 (OPP_COMP, GREEN, 1.5, "solid"),
                 (OPP_MFG, BLUE, 1.5, "solid")],
         leg_lines=[(BLUE, 1.6), (PURPLE_THIN, 1.0), (GREEN, 1.6)]),
    dict(title="（図表）米国投入価格指数（ＰＭＩ）の推移", title_xy=(971, 1148),
         box=(684, 1271, 1180, 1637), yr=(35, 90), dtick=5, pct_xy=(660, 1141),
         src="(出所)) S&P Global", src_xy=(668, 1696),
         leg=(910, 946, 951, (1207, 1243, 1278)),
         series=[(IPP_SVC, PURPLE_LIGHT, 2.2, "solid"),
                 (IPP_COMP, GREEN, 1.2, "solid"),
                 (IPP_MFG, BLUE, 1.3, "solid")],
         leg_lines=[(BLUE, 1.2), (PURPLE_LIGHT, 2.6), (GREEN, 1.2)]),
]


def months(vals):
    return [2010 + i / 12 for i in range(len(vals))]


def px(x):
    return x / W


def py(y):
    return 1 - y / H


fig = go.Figure()
shapes = []
annotations = []
tick_font = dict(family=NUM_FONT, size=12.5, color=TEXT)

for n, p in enumerate(PANELS, start=1):
    suffix = "" if n == 1 else str(n)
    xa, ya = f"x{suffix}", f"y{suffix}"
    lines = list(p["series"])
    if "overlay" in p:
        lines.append(p["overlay"])
    for vals, color, width, dash in lines:
        fig.add_trace(go.Scatter(
            x=months(vals), y=vals, mode="lines",
            line=dict(color=color, width=width, dash=dash),
            xaxis=xa, yaxis=ya, showlegend=False, hoverinfo="skip",
        ))

    x0, x1, y0, y1 = p["box"]
    fig.update_layout(**{
        f"xaxis{suffix}": dict(
            domain=[px(x0), px(x1)], anchor=ya,
            range=[2010, 2010 + (N_MONTHS - 1) / 12],
            tickvals=YEARS, ticktext=YEAR_LABELS,
            ticks="inside", ticklen=4, tickcolor="black",
            showline=True, linecolor="black", linewidth=1.5,
            showgrid=False, zeroline=False, tickfont=tick_font,
            ticklabelstandoff=4,
        ),
        f"yaxis{suffix}": dict(
            domain=[py(y1), py(y0)], anchor=xa,
            range=list(p["yr"]), dtick=p["dtick"], tick0=p["yr"][0],
            ticks="outside", ticklen=4, tickcolor="black",
            showline=True, linecolor="black", linewidth=1.5,
            showgrid=True, gridcolor="black", gridwidth=1, griddash="2px,2px",
            zeroline=False, tickfont=tick_font,
        ),
    })

    shapes.append(dict(type="line", xref=f"{xa} domain", yref=ya,
                       x0=0, x1=1, y0=BASELINE, y1=BASELINE,
                       line=dict(color="black", width=2), layer="below"))

    tx, ty = p["title_xy"]
    annotations.append(dict(text=p["title"], x=px(tx), y=py(ty), xref="paper", yref="paper",
                            showarrow=False, xanchor="center", yanchor="middle",
                            font=dict(family=JP_FONT, size=13, color=TEXT)))
    cx, cy = p["pct_xy"]
    annotations.append(dict(text="(%)", x=px(cx), y=py(cy), xref="paper", yref="paper",
                            showarrow=False, xanchor="center", yanchor="middle",
                            font=dict(family=NUM_FONT, size=12, color=TEXT)))
    sx, sy = p["src_xy"]
    annotations.append(dict(text=p["src"], x=px(sx), y=py(sy), xref="paper", yref="paper",
                            showarrow=False, xanchor="left", yanchor="middle",
                            font=dict(family=JP_FONT, size=11, color=TEXT)))

    lx0, lx1, ltx, lys = p["leg"]
    for name, ly, spec in zip(LEGEND_NAMES, lys, p["leg_lines"]):
        if spec is not None:
            color, width = spec
            shapes.append(dict(type="line", xref="paper", yref="paper",
                               x0=px(lx0), x1=px(lx1), y0=py(ly), y1=py(ly),
                               line=dict(color=color, width=width)))
        annotations.append(dict(text=name, x=px(ltx), y=py(ly), xref="paper", yref="paper",
                                showarrow=False, xanchor="left", yanchor="middle",
                                font=dict(family=JP_FONT, size=11.5, color=TEXT)))

fig.update_layout(
    width=W, height=H,
    margin=dict(l=0, r=0, t=0, b=0),
    paper_bgcolor="white", plot_bgcolor="white",
    showlegend=False, hovermode=False,
    shapes=shapes, annotations=annotations,
)

fig.write_html("out.html", config={"displayModeBar": False},
               post_script="document.body.style.margin='0';")
